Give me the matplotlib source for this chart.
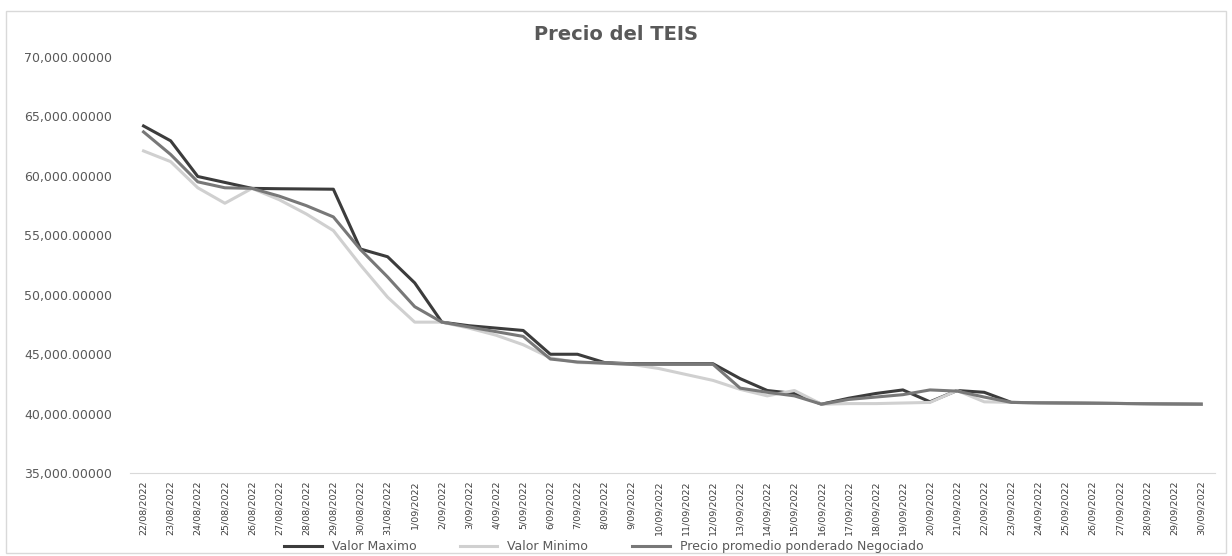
import matplotlib.pyplot as plt
from matplotlib.ticker import FuncFormatter
from matplotlib import font_manager

fechas = ['22/08/2022', '23/08/2022', '24/08/2022', '25/08/2022', '26/08/2022', '27/08/2022',
          '28/08/2022', '29/08/2022', '30/08/2022', '31/08/2022', '1/09/2022', '2/09/2022',
          '3/09/2022', '4/09/2022', '5/09/2022', '6/09/2022', '7/09/2022', '8/09/2022',
          '9/09/2022', '10/09/2022', '11/09/2022', '12/09/2022', '13/09/2022', '14/09/2022',
          '15/09/2022', '16/09/2022', '17/09/2022', '18/09/2022', '19/09/2022', '20/09/2022',
          '21/09/2022', '22/09/2022', '23/09/2022', '24/09/2022', '25/09/2022', '26/09/2022',
          '27/09/2022', '28/09/2022', '29/09/2022', '30/09/2022']

valor_maximo = [64200, 62950, 59950, 59450, 58950, 58920, 58900, 58880, 53850, 53200,
                51000, 47700, 47400, 47200, 47000, 45000, 45000, 44300, 44200, 44200,
                44200, 44200, 42950, 41950, 41700, 40800, 41300, 41700, 42000, 41000,
                41950, 41800, 40950, 40920, 40900, 40880, 40860, 40840, 40820, 40800]

valor_minimo = [62100, 61200, 59000, 57700, 58950, 58000, 56800, 55400, 52500, 49800,
                47700, 47700, 47200, 46600, 45800, 44700, 44300, 44250, 44150, 43800,
                43300, 42800, 42050, 41500, 41950, 40800, 40850, 40850, 40900, 40950,
                41950, 41000, 40950, 40920, 40900, 40880, 40860, 40840, 40820, 40800]

precio_ponderado = [63700, 61800, 59500, 59000, 58950, 58300, 57500, 56550, 53800, 51500,
                    49000, 47700, 47300, 46900, 46500, 44600, 44350, 44250, 44150, 44150,
                    44150, 44150, 42150, 41800, 41500, 40800, 41200, 41400, 41600, 42000,
                    41900, 41400, 40950, 40920, 40900, 40880, 40860, 40840, 40820, 40800]

plt.rcParams['font.family'] = ['DejaVu Sans']

# fuente estrecha para las fechas si existe
nombres = {f.name for f in font_manager.fontManager.ttflist}
if 'Liberation Sans Narrow' in nombres:
    fuente_fechas, tam_fechas = 'Liberation Sans Narrow', 8.5
elif 'DejaVu Sans Condensed' in nombres:
    fuente_fechas, tam_fechas = 'DejaVu Sans Condensed', 7.5
else:
    fuente_fechas, tam_fechas = 'DejaVu Sans', 6.8

fig = plt.figure(figsize=(12.32, 5.56), dpi=100)
ax = fig.add_axes([0.1055, 0.149, 0.8805, 0.7485])

x = list(range(len(fechas)))
ax.plot(x, valor_maximo, color='#3c3c3c', lw=2.2, label='Valor Maximo')
ax.plot(x, valor_minimo, color='#d0d0d0', lw=2.2, label='Valor Minimo')
ax.plot(x, precio_ponderado, color='#787878', lw=2.2, label='Precio promedio ponderado Negociado')

ax.set_ylim(35000, 70000)
ax.set_xlim(-0.5, len(fechas) - 0.5)
ax.set_yticks(range(35000, 70001, 5000))
ax.yaxis.set_major_formatter(FuncFormatter(lambda v, p: f'{v:,.5f}'))
ax.set_xticks(x)
ax.set_xticklabels(fechas, rotation=90, fontsize=tam_fechas, family=fuente_fechas,
                   color='#404040')
for lbl in ax.get_yticklabels():
    lbl.set_fontsize(9)
    lbl.set_color('#595959')
ax.tick_params(length=0)
ax.tick_params(axis='x', pad=5)
ax.tick_params(axis='y', pad=13)

for s in ['top', 'right', 'left']:
    ax.spines[s].set_visible(False)
ax.spines['bottom'].set_color('#d9d9d9')

fig.suptitle('Precio del TEIS', y=0.955, fontsize=14, fontweight='bold', color='#595959')

fig.legend(loc='lower center', ncol=3, frameon=False, fontsize=9, bbox_to_anchor=(0.49, -0.015),
           handlelength=3, columnspacing=3.5, labelcolor='#595959')

# marco gris claro alrededor del grafico
fig.patches.append(plt.Rectangle((0.005, 0.005), 0.99, 0.975, transform=fig.transFigure,
                                 fill=False, edgecolor='#d9d9d9', lw=1))

fig.savefig('out.png', dpi=100)
